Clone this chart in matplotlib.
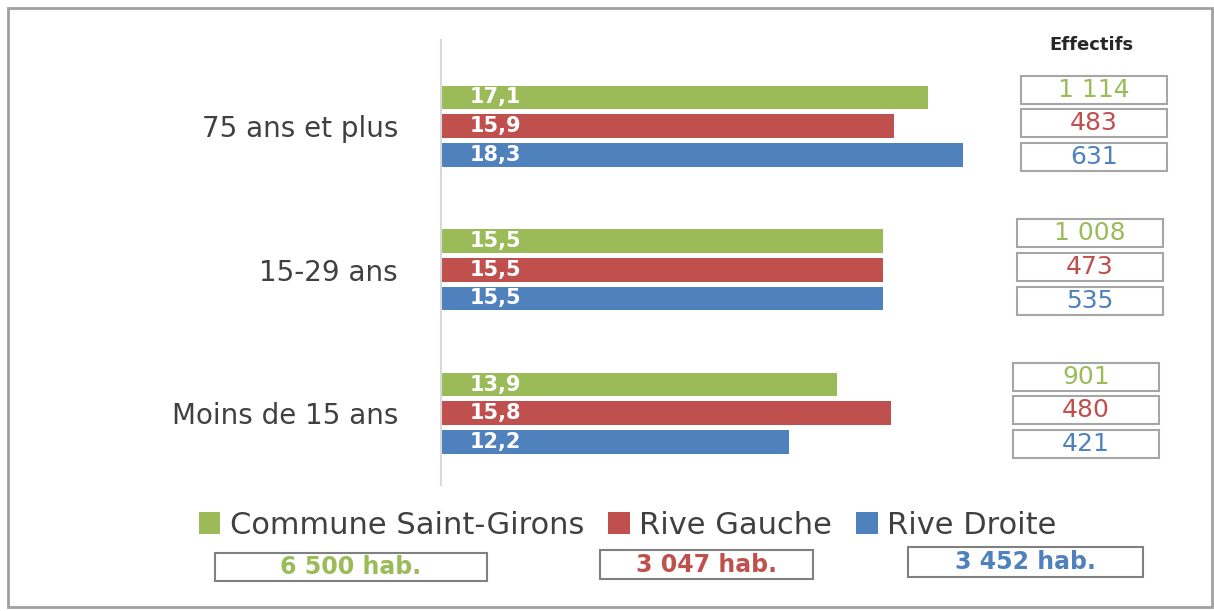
import matplotlib.pyplot as plt
import matplotlib.transforms as mtransforms
from matplotlib.patches import Rectangle

# data
categories = ['Moins de 15 ans', '15-29 ans', '75 ans et plus']
series = ['Commune Saint-Girons', 'Rive Gauche', 'Rive Droite']
commune = [13.9, 15.5, 17.1]
rive_gauche = [15.8, 15.5, 15.9]
rive_droite = [12.2, 15.5, 18.3]
eff_commune = ['901', '1 008', '1 114']
eff_gauche = ['480', '473', '483']
eff_droite = ['421', '535', '631']
habitants = ['6 500 hab.', '3 047 hab.', '3 452 hab.']

GREEN = '#9BBB59'
RED = '#C0504D'
BLUE = '#4F81BD'
colors = [GREEN, RED, BLUE]

W, H = 1214, 611
fig = plt.figure(figsize=(W / 100, H / 100), dpi=100)
ax = fig.add_axes([441 / W, 126 / H, 570 / W, 445 / H])

pos = list(range(len(categories)))
offsets = [0.2, 0.0, -0.2]
values = [commune, rive_gauche, rive_droite]
effectifs = [eff_commune, eff_gauche, eff_droite]

bars = []
for vals, off, col, name in zip(values, offsets, colors, series):
    b = ax.barh([p + off for p in pos], vals, height=0.165, color=col, label=name)
    bars.append(b)
    for p, v in zip(pos, vals):
        ax.text(1.0, p + off, str(v).replace('.', ','), ha='left', va='center',
                color='white', fontsize=15, fontweight='bold')

ax.set_xlim(0, 20)
ax.set_ylim(-0.5, 2.6)
ax.set_xticks([])
ax.set_yticks(pos)
ax.set_yticklabels(categories, fontsize=20, color='#404040')
ax.tick_params(axis='y', length=0, pad=31)
for s in ['top', 'right', 'bottom']:
    ax.spines[s].set_visible(False)
ax.spines['left'].set_color('#D9D9D9')
ax.spines['left'].set_linewidth(1.5)

# Effectifs boxes on the right, aligned on the bar groups
trans = mtransforms.blended_transform_factory(fig.transFigure, ax.transData)
box_off = [0.235, 0.0, -0.235]
box_h = 0.195
for i, p in enumerate(pos):
    x0 = (1013 + 4 * i) / W
    bw = 146 / W
    for k in range(3):
        yc = p + 0.02 + box_off[k]
        fig.patches.append(Rectangle((x0, yc - box_h / 2), bw, box_h, transform=trans,
                                     fill=False, edgecolor='#A6A6A6', lw=1.5))
        fig.text(x0 + bw / 2, yc, effectifs[k][i], transform=trans, ha='center', va='center',
                 fontsize=18, color=colors[k])

fig.text(1091 / W, 1 - 45 / H, 'Effectifs', ha='center', va='center', fontsize=13,
         fontweight='bold', color='#262626')

leg = fig.legend(handles=bars, labels=series, loc='center', bbox_to_anchor=(0.517, 1 - 525 / H),
                 ncol=3, frameon=False, fontsize=22, handlelength=0.7, handleheight=0.7,
                 handletextpad=0.3, columnspacing=0.8, labelcolor='#404040')

# population boxes under the legend
hab_boxes = [(215, 553, 272, 28), (600, 550, 213, 29), (908, 547, 235, 30)]
for (bx, by, bw, bh), txt, col in zip(hab_boxes, habitants, colors):
    fig.patches.append(Rectangle((bx / W, 1 - (by + bh) / H), bw / W, bh / H,
                                 transform=fig.transFigure, fill=False,
                                 edgecolor='#808080', lw=1.5))
    fig.text((bx + bw / 2) / W, 1 - (by + bh / 2) / H, txt, ha='center', va='center',
             fontsize=17, fontweight='bold', color=col)

# outer frame
fig.patches.append(Rectangle((8 / W, 4 / H), 1204 / W, 599 / H, transform=fig.transFigure,
                             fill=False, edgecolor='#A0A0A0', lw=2))

fig.savefig('out.png', dpi=100)
